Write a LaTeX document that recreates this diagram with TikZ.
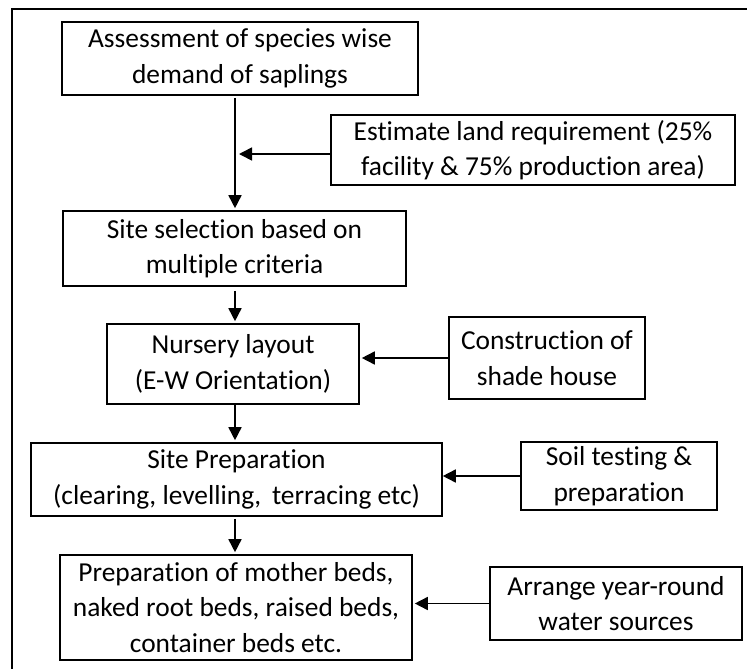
\documentclass[tikz,border=0pt]{standalone}
\usepackage{fontspec}
\setmainfont[Ligatures=NoCommon]{Carlito}
\usetikzlibrary{arrows.meta}

\begin{document}
\begin{tikzpicture}[x=1pt,y=1pt,yscale=-1,xscale=1,
		stepbox/.style={draw, line width=1.6pt, inner sep=0pt, align=center,
			font=\fontsize{27.4}{35.5}\selectfont},
		flow/.style={line width=1.6pt, -{Triangle[length=13pt,width=13pt]}}]
		\useasboundingbox (0,0) rectangle (747,669);

		% Outer frame (only top and left edges show)
		\draw[line width=1.8pt] (12,669) -- (12,9) -- (747,9);

		% Main chain of steps
		\node[stepbox, minimum width=356, minimum height=73] (assess) at (240,58.5) {Assessment of species wise\\demand of saplings};
		\node[stepbox, minimum width=343, minimum height=75] (site) at (234.5,248.5) {Site selection based on\\multiple criteria};
		\node[stepbox, minimum width=252, minimum height=80] (layout) at (233,364) {Nursery layout\\(E-W Orientation)};
		\node[stepbox, minimum width=411, minimum height=73] (prep) at (236.5,479.5) {Site Preparation\\(clearing, levelling,\, terracing etc)};
		\node[stepbox, minimum width=352, minimum height=105] (beds) at (236,607.5) {Preparation of mother beds,\\naked root beds, raised beds,\\container beds etc.};

		% Side inputs
		\node[stepbox, minimum width=404, minimum height=70] (land) at (533,150) {Estimate land requirement (25\%\\facility \& 75\% production area)};
		\node[stepbox, minimum width=196, minimum height=82] (shade) at (547,358) {Construction of\\shade house};
		\node[stepbox, minimum width=196, minimum height=68] (soil) at (619,476) {Soil testing \&\\preparation};
		\node[stepbox, minimum width=252, minimum height=73] (water) at (616,603.5) {Arrange year-round\\water sources};

		% Junction on the first arrow
		\coordinate (jn) at (235,154);

		% Arrows down the chain
		\draw[flow, shorten <=2pt, shorten >=2pt] (assess.south -| jn) -- (site.north -| jn);
		\draw[flow, shorten <=4pt, shorten >=2pt] (site.south -| jn) -- (layout.north -| jn);
		\draw[flow, shorten >=2pt] (layout.south -| jn) -- (prep.north -| jn);
		\draw[flow, shorten <=2pt, shorten >=2pt] (prep.south -| jn) -- (beds.north -| jn);

		% Arrows from the side inputs
		\draw[flow, shorten >=4pt] (land.west |- jn) -- (jn);
		\draw[flow, shorten >=2pt] (shade.west) -- (layout.east |- shade.west);
		\draw[flow] (soil.west) -- (prep.east |- soil.west);
		\draw[flow, shorten >=2pt] (water.west) -- (beds.east |- water.west);
	\end{tikzpicture}
\end{document}
